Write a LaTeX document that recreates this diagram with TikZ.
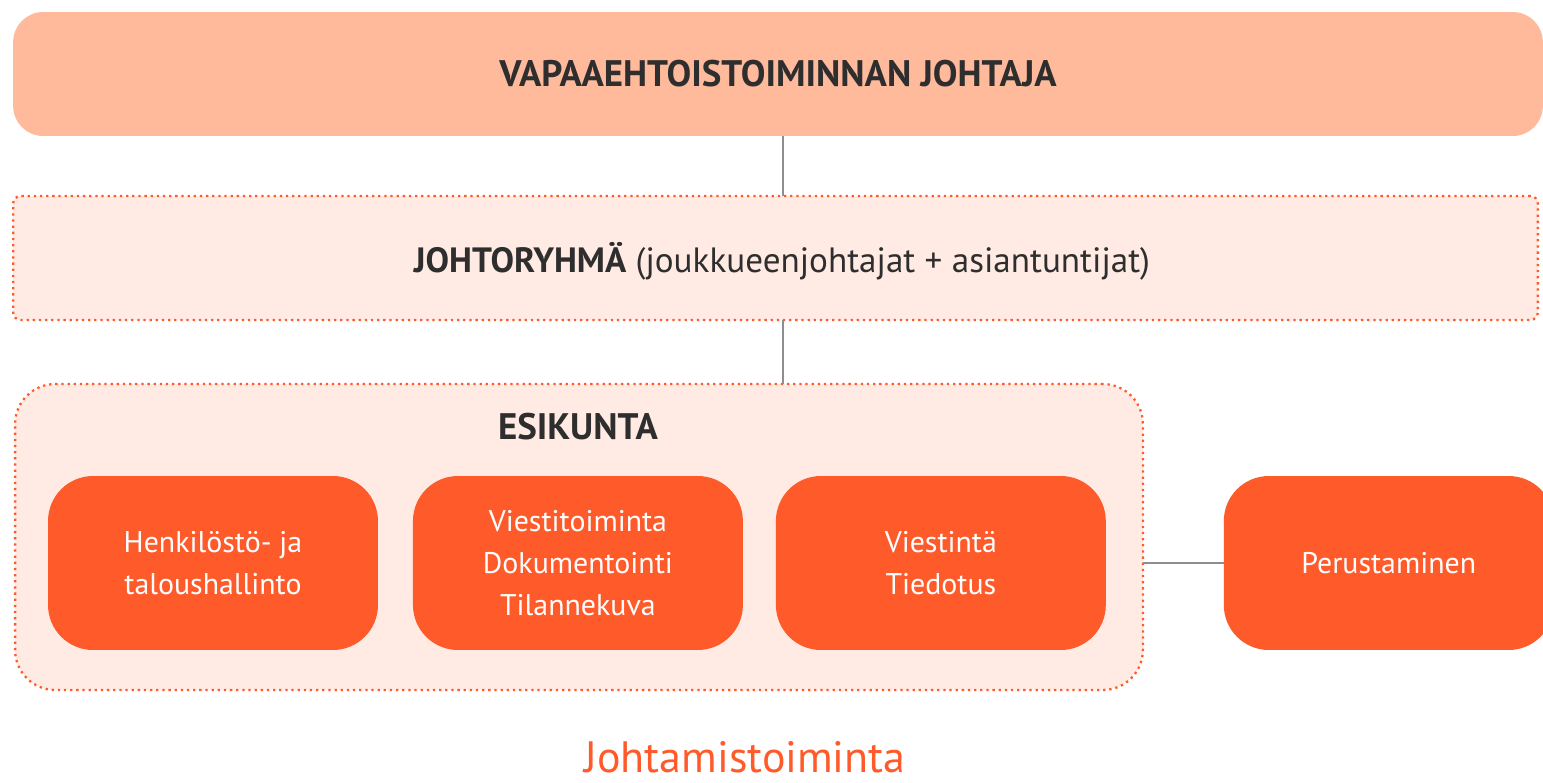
\documentclass[tikz,border=0pt]{standalone}
\usepackage{fontspec}
\setmainfont{PT Sans}
\usetikzlibrary{positioning}

\definecolor{peach}{HTML}{FFB99B}
\definecolor{blush}{HTML}{FFEBE3}
\definecolor{tangerine}{HTML}{FF5A2A}
\definecolor{ink}{HTML}{2E2E2E}
\definecolor{linegray}{HTML}{8E8E8E}

\begin{document}
\begin{tikzpicture}[x=0.02cm,y=-0.02cm]
        \tikzstyle{headbox} = [rectangle, fill=peach, rounded corners=0.6cm, minimum width=30.6cm, minimum height=2.48cm, outer sep=0pt, text=ink, font=\fontsize{21}{25}\selectfont\bfseries]
        \tikzstyle{groupbox} = [rectangle, fill=blush, draw=tangerine, line width=1.3pt, dash pattern=on 1.3pt off 2.2pt, outer sep=0pt, text=ink]
        \tikzstyle{unit} = [rectangle, fill=tangerine, rounded corners=0.9cm, minimum width=6.6cm, minimum height=3.48cm, outer sep=0pt, text=white, align=center, font=\fontsize{17}{24}\selectfont]
        \tikzstyle{link} = [linegray, line width=1.6pt]

        \useasboundingbox (0,0) rectangle (1543,782);

        \node (johtaja) [headbox] at (778,74) {VAPAAEHTOISTOIMINNAN JOHTAJA};
        \node (ryhma) [groupbox, rounded corners=0.15cm, minimum width=30.5cm, minimum height=2.48cm] at (775.5,258) {};
        \node (ryhmalabel) [text=ink, font=\fontsize{20}{24}\selectfont] at (782,261) {\textbf{JOHTORYHMÄ} (joukkueenjohtajat + asiantuntijat)};
        \node (esik) [groupbox, rounded corners=0.8cm, minimum width=22.56cm, minimum height=6.12cm] at (579,537) {};
        \node (esiklabel) [text=ink, font=\fontsize{21}{25}\selectfont\bfseries] at (578,427) {ESIKUNTA};

        \node (henk) [unit] at (213,563) {Henkilöstö- ja\\taloushallinto};
        \node (viesti) [unit, right=0.7cm of henk] {Viestitoiminta\\Dokumentointi\\Tilannekuva};
        \node (tiedot) [unit, right=0.66cm of viesti] {Viestintä\\Tiedotus};
        \node (peru) [unit, right=2.36cm of tiedot] {Perustaminen};

        \node (otsikko) [text=tangerine, anchor=base, text depth=0pt, inner sep=0pt, font=\fontsize{25}{29}\selectfont] at (745,772) {Johtamistoiminta};

        \coordinate (axis) at (783,0);
        \draw [link] (johtaja.south -| axis) -- (ryhma.north -| axis);
        \draw [link] (ryhma.south -| axis) -- (esik.north -| axis);
        \draw [link] (peru.west -| esik.east) -- (peru.west);
\end{tikzpicture}
\end{document}
